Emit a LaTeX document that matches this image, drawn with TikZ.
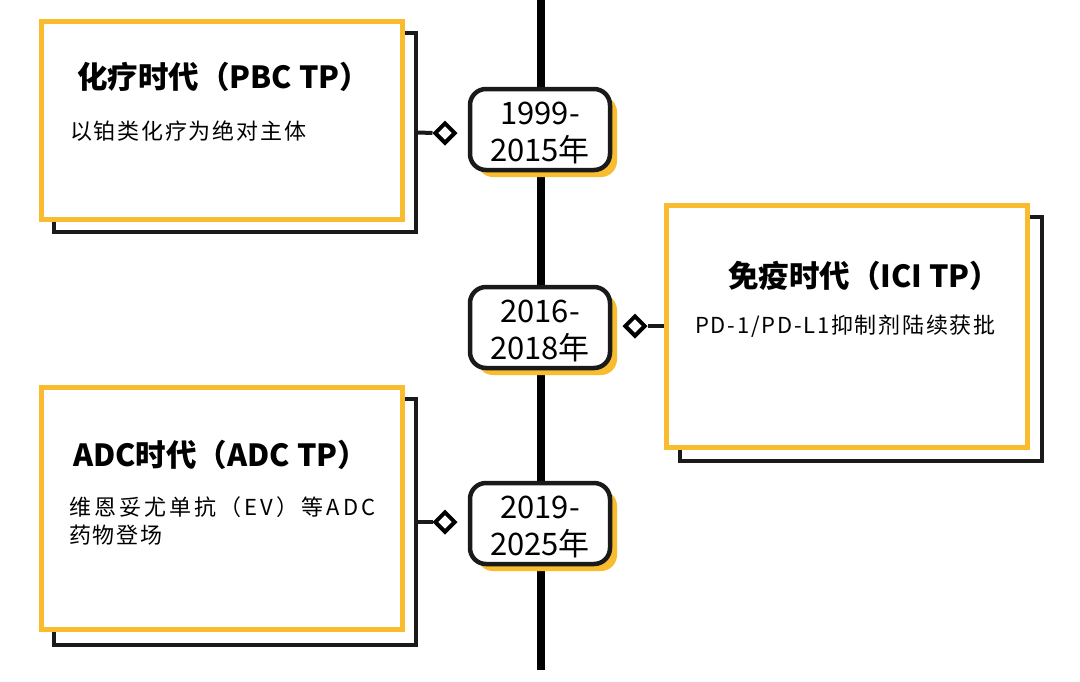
\documentclass[tikz,border=0pt]{standalone}
\usepackage{fontspec}
\setmainfont{Noto Sans CJK SC}
\newfontfamily\subfont{Noto Sans CJK SC}[LetterSpace=8]
\newfontfamily\subwide{Noto Sans CJK SC}[LetterSpace=14]
\usetikzlibrary{shapes.geometric,shadows}
\definecolor{ylw}{HTML}{F8BC2E}
\definecolor{ink}{HTML}{1A1A1A}
\newcommand{\yrtext}[2]{\raisebox{5.3pt}[0pt][0pt]{\begin{tabular}[t]{@{}c@{}}#1\\#2\end{tabular}}}
\begin{document}
\begin{tikzpicture}[x=1pt,y=-1pt,
  card/.style={draw=ylw, line width=5pt, fill=white, minimum width=361pt, inner sep=0pt},
  cardshadow/.style={draw=ink, line width=4pt, minimum width=362pt, inner sep=0pt},
  yearbox/.style={draw=ink, line width=4.5pt, fill=white, rounded corners=16pt,
    minimum width=140pt, minimum height=81pt, inner sep=0pt,
    font=\fontsize{31}{37}\selectfont,
    drop shadow={shadow xshift=7pt, shadow yshift=-7pt, fill=ylw, opacity=1}},
  pin/.style={diamond, draw=black, line width=4pt, fill=white,
    minimum width=21pt, minimum height=21pt, inner sep=0pt},
  conn/.style={draw=ink, line width=4pt},
  ttl/.style={anchor=base west, inner sep=0pt, font=\fontsize{30.5}{36}\selectfont\bfseries},
  sub/.style={anchor=base west, inner sep=0pt, font=\fontsize{22}{28}\selectfont\subfont},
]
\useasboundingbox (0,0) rectangle (1080,681);
\fill[white] (0,0) rectangle (1080,681);

% timeline
\coordinate (top) at (541,0);
\coordinate (bot) at (541,670);
\draw[line width=8pt, black] (top) -- (bot);

% card shadows
\node[cardshadow, minimum height=199pt] (s1) at (235,132.5) {};
\node[cardshadow, minimum height=244pt] (s2) at (861,339) {};
\node[cardshadow, minimum height=246pt] (s3) at (235,522) {};

% cards
\node[card, minimum height=198pt] (c1) at (221.5,120) {};
\node[card, minimum height=242pt] (c2) at (847,326) {};
\node[card, minimum height=242pt] (c3) at (221.5,508) {};

% card texts
\node[ttl] (t1) at (77,88) {化疗时代（PBC TP）};
\node[sub] (u1) at (70,139) {以铂类化疗为绝对主体};
\node[ttl] (t2) at (728,287) {免疫时代（ICI TP）};
\node[sub] (u2) at (695,333) {PD-1/PD-L1抑制剂陆续获批};
\node[ttl] (t3) at (73,466) {ADC时代（ADC TP）};
\node[sub, font=\fontsize{22}{28}\selectfont\subwide] (u3a) at (69,515) {维恩妥尤单抗（EV）等ADC};
\node[sub] (u3b) at (69,543) {药物登场};

% pins
\node[pin] (d1) at (445,133) {};
\node[pin] (d2) at (635,326) {};
\node[pin] (d3) at (445,522) {};
\draw[conn] (s1.east) -- (d1.west);
\draw[conn] (c2.west) -- (d2.east);
\draw[conn] (s3.east) -- (d3.west);

% year boxes
\node[yearbox] (y1) at (540,129.5) {\yrtext{1999-}{2015年}};
\node[yearbox] (y2) at (540,327.5) {\yrtext{2016-}{2018年}};
\node[yearbox] (y3) at (540,523.5) {\yrtext{2019-}{2025年}};
\end{tikzpicture}
\end{document}
